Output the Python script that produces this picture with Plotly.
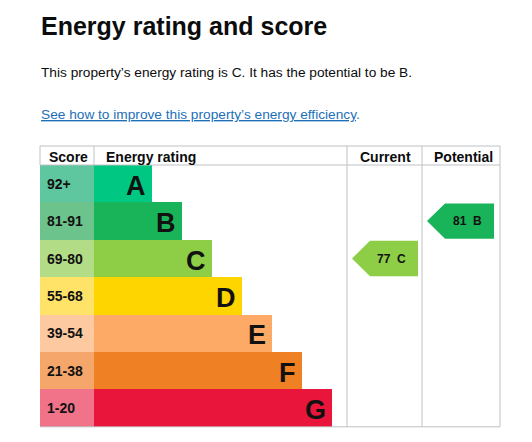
import plotly.graph_objects as go

ratings = ["A", "B", "C", "D", "E", "F", "G"]
score_bands = ["92+", "81-91", "69-80", "55-68", "39-54", "21-38", "1-20"]
bar_ends = [152, 182, 212, 242, 272, 302, 332]
bar_colors = ["#00c781", "#19b459", "#8dce46", "#ffd500", "#fcaa65", "#ef8023", "#e9153b"]
score_colors = ["#5fc7a0", "#6cc38c", "#b2dc86", "#ffe268", "#fdc9a1", "#f4a66b", "#f07389"]
current_score, current_rating = 77, "C"
potential_score, potential_rating = 81, "B"

X0, XS, XC, XP, XR = 40, 94, 347, 422, 500
Y_HEAD, Y0, RH = 146, 165, 37.4
OFF = 8  # page body margin compensation

fig = go.Figure()
ys = [Y0 + RH * (i + 0.5) for i in range(7)]
fig.add_trace(go.Bar(y=ys, x=[XS - X0] * 7, base=[X0] * 7, orientation="h", width=RH,
                     marker=dict(color=score_colors, line=dict(width=0)), hoverinfo="skip"))
fig.add_trace(go.Bar(y=ys, x=[e - XS for e in bar_ends], base=[XS] * 7, orientation="h", width=RH,
                     marker=dict(color=bar_colors, line=dict(width=0)), hoverinfo="skip"))

ann = []
for i, (r, s) in enumerate(zip(ratings, score_bands)):
    ann.append(dict(x=X0 + 5, y=ys[i], text=f"<b>{s}</b>", xanchor="left", showarrow=False,
                    font=dict(family="Arial", size=14, color="#111")))
    ann.append(dict(x=bar_ends[i] - 4, y=ys[i] + 2, text=f"<b>{r}</b>", xanchor="right", showarrow=False,
                    font=dict(family="Arial", size=27, color="#111")))

def arrow(idx, x_left, x_right, color, label):
    yc = ys[idx]
    h = RH - 2
    xs = [x_left, x_left + 18, x_right, x_right, x_left + 18, x_left]
    yv = [yc, yc - h / 2, yc - h / 2, yc + h / 2, yc + h / 2, yc]
    fig.add_trace(go.Scatter(x=xs, y=yv, fill="toself", fillcolor=color, mode="lines",
                             line=dict(width=0, color=color), hoverinfo="skip"))
    ann.append(dict(x=x_right - 10, y=yc, text=f"<b>{label}</b>", xanchor="right", showarrow=False,
                    font=dict(family="Arial", size=12, color="#111")))

ci = ratings.index(current_rating)
pi = ratings.index(potential_rating)
arrow(ci, XC + 5, XP - 4, bar_colors[ci], f"{current_score}  {current_rating}")
arrow(pi, XP + 5, XR - 6, bar_colors[pi], f"{potential_score}  {potential_rating}")

head_font = dict(family="Arial", size=14, color="#0b0c0c")
for x, t in [(X0 + 7, "Score"), (XS + 10, "Energy rating"), (XC + 11, "Current"), (XP + 10, "Potential")]:
    ann.append(dict(x=x, y=(Y_HEAD + Y0) / 2 + 1, text=f"<b>{t}</b>", xanchor="left", showarrow=False, font=head_font))

ann.append(dict(x=39, y=26, text="<b>Energy rating and score</b>", xanchor="left", showarrow=False,
                font=dict(family="Arial", size=25, color="#0b0c0c")))
ann.append(dict(x=39, y=72, text="This property’s energy rating is C. It has the potential to be B.", xanchor="left",
                showarrow=False, font=dict(family="Arial", size=13.7, color="#0b0c0c")))
ann.append(dict(x=39, y=114, text="<span style='text-decoration:underline'>See how to improve this property’s energy efficiency</span>.",
                xanchor="left", showarrow=False, font=dict(family="Arial", size=13.7, color="#1d70b8")))

Y_END = Y0 + 7 * RH
grid = "#bfc1c3"
shapes = [
    dict(type="line", x0=X0, x1=XR, y0=Y_HEAD, y1=Y_HEAD, line=dict(color=grid, width=1)),
    dict(type="line", x0=X0, x1=XR, y0=Y0, y1=Y0, line=dict(color=grid, width=1)),
    dict(type="line", x0=X0, x1=XR, y0=Y_END, y1=Y_END, line=dict(color=grid, width=1)),
    dict(type="line", x0=X0, x1=X0, y0=Y_HEAD, y1=Y0, line=dict(color=grid, width=1)),
    dict(type="line", x0=XS, x1=XS, y0=Y_HEAD, y1=Y0, line=dict(color=grid, width=1)),
    dict(type="line", x0=XC, x1=XC, y0=Y_HEAD, y1=Y_END, line=dict(color=grid, width=1)),
    dict(type="line", x0=XP, x1=XP, y0=Y_HEAD, y1=Y_END, line=dict(color=grid, width=1)),
    dict(type="line", x0=XR, x1=XR, y0=Y_HEAD, y1=Y_END, line=dict(color=grid, width=1)),
]

fig.update_layout(width=532, height=442, margin=dict(l=0, r=0, t=0, b=0), showlegend=False,
                  plot_bgcolor="white", paper_bgcolor="white", barmode="overlay", bargap=0,
                  xaxis=dict(range=[OFF, 532 + OFF], visible=False, fixedrange=True),
                  yaxis=dict(range=[442 + OFF, OFF], visible=False, fixedrange=True),
                  annotations=ann, shapes=shapes)
fig.write_html("out.html", config={"displayModeBar": False})
